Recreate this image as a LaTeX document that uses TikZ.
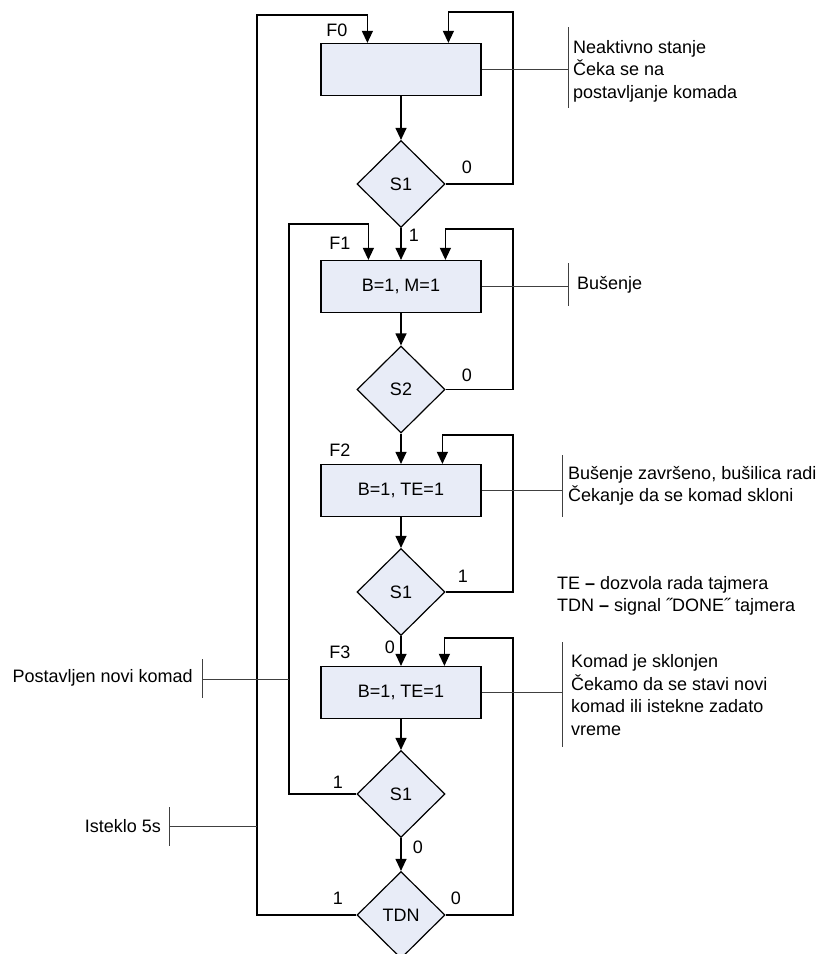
\documentclass[tikz,border=0pt]{standalone}
\usepackage{fontspec}
\setmainfont{Liberation Sans}
\usetikzlibrary{shapes.geometric,arrows.meta}
\definecolor{boxfill}{RGB}{232,236,247}
\begin{document}
\begin{tikzpicture}[x=1pt,y=-1pt,
  every node/.style={font=\fontsize{18}{22.5}\selectfont},
  statebox/.style={draw, line width=1.2pt, fill=boxfill, minimum width=160pt, minimum height=52pt, inner sep=0pt},
  decision/.style={draw, diamond, line width=1.2pt, fill=boxfill, minimum width=88pt, minimum height=87pt, inner sep=0pt},
  flow/.style={line width=1.2pt, -{Triangle[length=12pt,width=11pt]}},
  note/.style={line width=0.8pt, draw=black!75},
  txt/.style={inner sep=0pt, align=left},
  lbl/.style={inner sep=0pt}
]
\useasboundingbox (0,0) rectangle (825,954);

% states and decisions
\node[statebox] (f0) at (401,69.5) {};
\node[decision] (d0) at (401,184) {S1};
\node[statebox] (f1) at (401,286.5) {B=1, M=1};
\node[decision] (d1) at (401,389.5) {S2};
\node[statebox] (f2) at (401,490.5) {B=1, TE=1};
\node[decision] (d2) at (401,592) {S1};
\node[statebox] (f3) at (401,692.5) {B=1, TE=1};
\node[decision] (d3) at (401,794) {S1};
\node[decision] (d4) at (401,915) {TDN};

% state labels
\node[lbl] (lf0) at (337,30) {F0};
\node[lbl] (lf1) at (340,243) {F1};
\node[lbl] (lf2) at (340,450) {F2};
\node[lbl] (lf3) at (340,652) {F3};

% main flow
\draw[flow] (f0.south) -- (d0.north);
\draw[flow] (d0.south) -- (f1.north);
\draw[flow] (f1.south) -- (d1.north);
\draw[flow] (d1.south) -- (f2.north);
\draw[flow] (f2.south) -- (d2.north);
\draw[flow] (d2.south) -- (f3.north);
\draw[flow] (f3.south) -- (d3.north);
\draw[flow] (d3.south) -- (d4.north);

% self loops
\draw[flow] (d0.east) -| (513,12) -| ([xshift=128pt]f0.north west);
\draw[flow] (d1.east) -| (513,229) -| ([xshift=125pt]f1.north west);
\draw[flow] (d2.east) -| (513,435) -| ([xshift=122pt]f2.north west);
\draw[flow] (d4.east) -| (513,638) -| ([xshift=124pt]f3.north west);

% back loops
\draw[flow] (d4.west) -| (257,15) -| ([xshift=47pt]f0.north west);
\draw[flow] (d3.west) -| (289,224) -| ([xshift=48pt]f1.north west);

% branch labels
\node[lbl] (b0) at (467,167) {0};
\node[lbl] (b1) at (414,235) {1};
\node[lbl] (b2) at (467,375) {0};
\node[lbl] (b3) at (463,576) {1};
\node[lbl] (b4) at (390,647) {0};
\node[lbl] (b5) at (338,782) {1};
\node[lbl] (b6) at (418,847) {0};
\node[lbl] (b7) at (338,898) {1};
\node[lbl] (b8) at (456,898) {0};

% annotations
\coordinate (n0) at (568,69.5);
\draw[note] (f0.east) -- (n0);
\draw[note] (568,27) -- (568,108);
\node[txt, anchor=west] (t0) at (573,71) {Neaktivno stanje\\Čeka se na\\postavljanje komada};

\coordinate (n1) at (568,286.5);
\draw[note] (f1.east) -- (n1);
\draw[note] (568,263) -- (568,306);
\node[txt, anchor=west] (t1) at (577,285) {Bušenje};

\coordinate (n2) at (562,490.5);
\draw[note] (f2.east) -- (n2);
\draw[note] (562,455) -- (562,517);
\node[txt, anchor=west] (t2) at (568,486) {Bušenje završeno, bušilica radi\\Čekanje da se komad skloni};

\node[txt, anchor=west] (t4) at (557,596) {TE \textbf{–} dozvola rada tajmera\\TDN \textbf{–} signal ˝DONE˝ tajmera};

\coordinate (n3) at (562,692.5);
\draw[note] (f3.east) -- (n3);
\draw[note] (562,642) -- (562,747);
\node[txt, anchor=west] (t3) at (571,695) {Komad je sklonjen\\Čekamo da se stavi novi\\komad ili istekne zadato\\vreme};

\coordinate (n4) at (202,679);
\coordinate (n4e) at (289,679);
\draw[note] (n4) -- (n4e);
\draw[note] (202,659) -- (202,698);
\node[txt, anchor=east] (t5) at (193,678) {Postavljen novi komad};

\coordinate (n5) at (169,826);
\coordinate (n5e) at (257,826);
\draw[note] (n5) -- (n5e);
\draw[note] (169,807) -- (169,846);
\node[txt, anchor=east] (t6) at (161,826) {Isteklo 5s};
\end{tikzpicture}
\end{document}
